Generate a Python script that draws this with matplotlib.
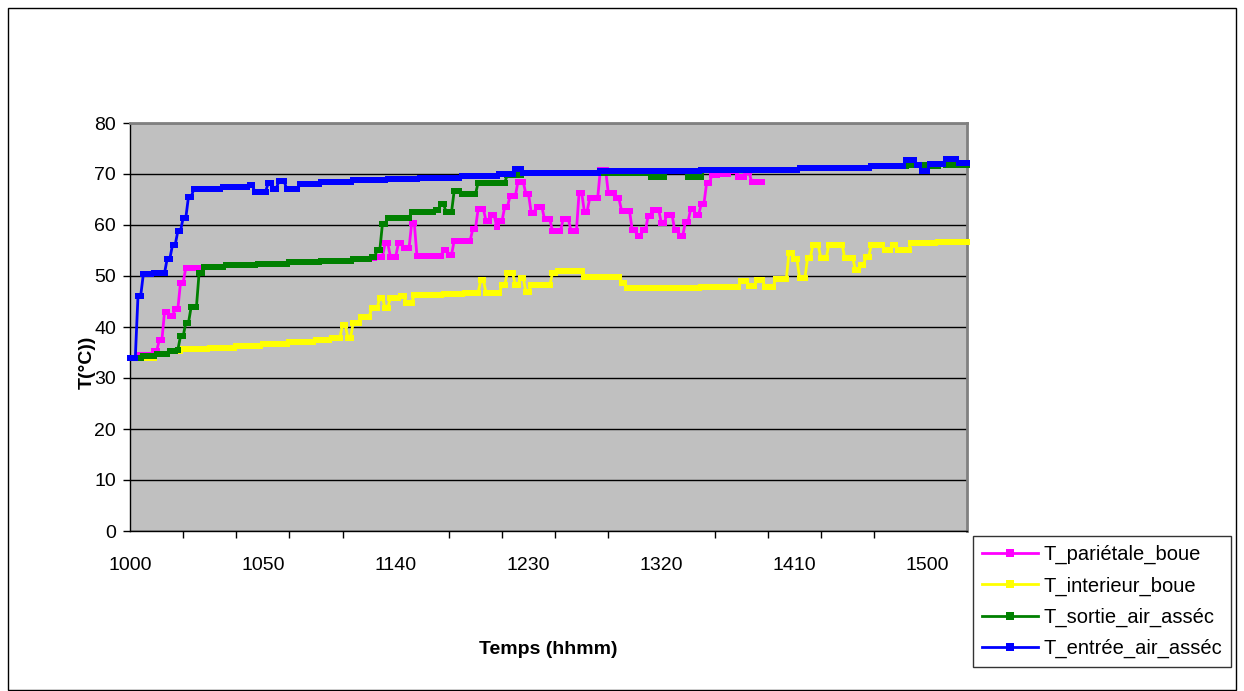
import matplotlib.pyplot as plt
from matplotlib.patches import Rectangle
import numpy as np

# time axis: one category per minute from 10:00
n_minutes = 316
tick_labels = ["1000", "1050", "1140", "1230", "1320", "1410", "1500"]

# run-length data: minute where each level starts, and the level (°C)
blue_start = [0, 3, 5, 9, 14, 16, 18, 20, 22, 24, 35, 45, 47, 52, 54, 56, 59, 64, 72, 84,
              97, 109, 125, 139, 145, 148, 177, 215, 252, 279, 292, 296, 298, 301, 307, 312]
blue_level = [34.0, 46.0, 50.3, 50.6, 53.4, 56.1, 58.8, 61.4, 65.5, 67.0, 67.4, 67.8, 66.5,
              68.2, 67.0, 68.6, 67.0, 68.0, 68.5, 68.8, 69.0, 69.3, 69.6, 70.0, 71.0, 70.2,
              70.5, 70.8, 71.2, 71.6, 72.8, 71.8, 70.6, 72.0, 73.0, 72.2]

green_start = [0, 5, 10, 15, 18, 19, 21, 23, 26, 28, 36, 48, 60, 72, 84, 91, 93, 95, 97,
               106, 115, 117, 119, 122, 125, 131, 142, 148, 196, 202, 210, 216, 252, 279,
               293, 300, 305, 307]
green_level = [34.0, 34.4, 34.8, 35.2, 35.5, 38.2, 40.8, 43.9, 50.6, 51.8, 52.1, 52.4, 52.7,
               53.0, 53.4, 53.8, 55.0, 60.2, 61.4, 62.5, 63.0, 64.1, 62.5, 66.7, 66.0, 68.3,
               69.8, 70.2, 69.4, 70.5, 69.4, 70.8, 71.2, 71.6, 71.8, 71.6, 72.0, 71.8]

magenta_start = [0, 3, 9, 11, 13, 15, 17, 19, 21, 28, 36, 48, 60, 72, 84, 91, 93, 96, 98,
                 101, 103, 106, 108, 118, 120, 122, 129, 131, 134, 136, 138, 139, 141, 143,
                 146, 149, 151, 153, 156, 159, 163, 166, 169, 171, 173, 177, 180, 183, 185,
                 189, 191, 193, 195, 197, 200, 202, 205, 207, 209, 211, 213, 215, 217, 219,
                 222, 226, 229, 232, 234]
magenta_level = [34.0, 34.5, 35.2, 37.4, 43.0, 42.2, 43.5, 48.7, 51.6, 51.8, 52.1, 52.4,
                 52.7, 53.0, 53.4, 53.6, 53.8, 56.4, 53.8, 56.4, 55.4, 60.3, 53.9, 55.1,
                 54.1, 56.9, 59.2, 63.1, 60.8, 62.0, 59.7, 60.8, 63.5, 65.6, 68.5, 66.0,
                 62.4, 63.6, 61.1, 58.8, 61.1, 58.8, 66.3, 62.6, 65.2, 70.8, 66.3, 65.2,
                 62.8, 59.0, 57.8, 59.0, 61.8, 62.9, 60.3, 62.0, 59.0, 57.8, 60.6, 63.1,
                 62.0, 64.2, 68.2, 69.8, 70.0, 70.6, 69.5, 70.3, 68.4]
magenta_end = 239

yellow_start = [0, 10, 15, 20, 30, 40, 50, 60, 70, 76, 80, 82, 84, 87, 91, 94, 96, 98, 102,
                104, 107, 118, 126, 132, 134, 140, 142, 145, 147, 149, 151, 159, 161, 171,
                185, 187, 200, 215, 230, 233, 236, 239, 243, 248, 250, 252, 255, 257, 260,
                263, 269, 273, 275, 277, 279, 284, 287, 289, 294, 304]
yellow_level = [34.0, 34.8, 35.2, 35.6, 35.9, 36.2, 36.6, 37.0, 37.4, 37.9, 40.4, 37.9, 40.8,
                42.0, 43.7, 45.7, 43.8, 45.7, 46.0, 44.8, 46.3, 46.5, 46.7, 49.2, 46.7, 48.2,
                50.6, 48.2, 49.6, 46.9, 48.2, 50.6, 51.0, 49.9, 48.6, 47.6, 47.7, 47.8, 49.1,
                48.0, 49.2, 47.8, 49.4, 54.6, 53.3, 49.6, 53.5, 56.1, 53.5, 56.1, 53.5, 51.2,
                52.2, 53.8, 56.1, 55.1, 56.1, 55.1, 56.5, 56.7]


def expand(starts, levels, end):
    # hold each level until the next one starts, NaN after the series ends
    durations = np.diff(np.append(starts, end))
    vals = np.repeat(np.array(levels, dtype=float), durations)
    out = np.full(n_minutes, np.nan)
    out[:len(vals)] = vals
    return out


minutes = np.arange(n_minutes)
series = [
    ("T_pariétale_boue", "#FF00FF", expand(magenta_start, magenta_level, magenta_end)),
    ("T_interieur_boue", "#FFFF00", expand(yellow_start, yellow_level, n_minutes)),
    ("T_sortie_air_asséc", "#008000", expand(green_start, green_level, n_minutes)),
    ("T_entrée_air_asséc", "#0000FF", expand(blue_start, blue_level, n_minutes)),
]

plt.rcParams['font.family'] = ['Liberation Sans', 'DejaVu Sans']

fig = plt.figure(figsize=(12.44, 6.91), dpi=100)
ax = fig.add_axes([130 / 1244, 1 - 531 / 691, 837 / 1244, 408 / 691])
ax.set_facecolor("#C0C0C0")

for label, color, vals in series:
    ax.plot(minutes, vals, color=color, lw=2.0, marker='s', markersize=3.8,
            markeredgewidth=0, label=label, clip_on=False, zorder=3)

ax.set_xlim(0, n_minutes - 1)
ax.set_ylim(0, 80)
ax.set_yticks(np.arange(0, 81, 10))
ax.yaxis.grid(True, color='black', lw=1)
ax.set_axisbelow(True)

ax.set_xticks(np.arange(0, n_minutes, 50))
ax.set_xticklabels(tick_labels)
ax.set_xticks(np.arange(0, n_minutes, 20), minor=True)
ax.tick_params(axis='x', which='major', length=0, pad=19, labelsize=14)
ax.tick_params(axis='x', which='minor', length=5, width=1, direction='out')
ax.tick_params(axis='y', length=5, width=1, direction='out', pad=5, labelsize=14)

for side in ['top', 'right']:
    ax.spines[side].set_color('#808080')
    ax.spines[side].set_linewidth(2)
for side in ['left', 'bottom']:
    ax.spines[side].set_color('black')
    ax.spines[side].set_linewidth(1)

ax.set_xlabel("Temps (hhmm)", fontsize=14, fontweight='bold')
ax.xaxis.set_label_coords((548 - 130) / 837, -(641 - 531) / 408)
ax.set_ylabel("T(°C))", fontsize=14, fontweight='bold')
ax.yaxis.set_label_coords((96 - 130) / 837, (531 - 362) / 408)

leg = fig.legend(loc='upper left', bbox_to_anchor=(973 / 1244, 1 - 536 / 691),
                 fontsize=14.5, frameon=True, fancybox=False, edgecolor='black',
                 handlelength=2.8, handletextpad=0.25, labelspacing=0.6,
                 borderpad=0.45, borderaxespad=0, markerscale=1.5)
leg.get_frame().set_linewidth(1)

# outer chart border
fig.patches.append(Rectangle((8 / 1244, 0.002), 1228 / 1244, 1 - 8 / 691 - 0.002,
                             transform=fig.transFigure, fill=False, edgecolor='black', lw=1))

fig.savefig("out.png", dpi=100)
